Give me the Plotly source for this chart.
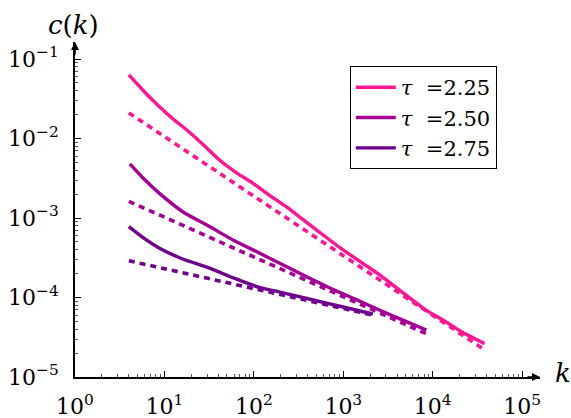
import plotly.graph_objects as go

# ---- data ----
tau_labels = ["2.25", "2.50", "2.75"]

k_225 = [4, 6, 8.8, 12.5, 17.7, 28, 41, 64, 97, 150, 232, 340, 500, 900, 1650, 2600, 3950, 8500, 12900, 22000, 38000]
c_225 = [0.063, 0.0385, 0.0251, 0.0176, 0.0129, 0.0081, 0.0054, 0.0037, 0.00275, 0.00193, 0.00138, 9.9e-4, 7.1e-4, 4.3e-4, 2.69e-4, 1.9e-4, 1.32e-4, 6.9e-5, 5.25e-5, 3.6e-5, 2.63e-5]

k_250 = [4.1, 6, 8.8, 16, 32, 60, 115, 195, 400, 708, 1400, 2570, 5000, 8500]
c_250 = [4.8e-3, 3.05e-3, 2.04e-3, 1.2e-3, 7.8e-4, 5.2e-4, 3.63e-4, 2.69e-4, 1.8e-4, 1.32e-4, 9.4e-5, 6.9e-5, 5.0e-5, 3.9e-5]

k_275 = [4, 6, 8.8, 16, 32, 60, 115, 195, 500, 1000, 2140]
c_275 = [7.8e-4, 5.5e-4, 4.17e-4, 3.05e-4, 2.34e-4, 1.75e-4, 1.34e-4, 1.17e-4, 9.1e-5, 7.6e-5, 6.2e-5]

kd_225 = [4, 38000]
cd_225 = [0.021, 2.2e-5]
kd_250 = [4, 8500]
cd_250 = [1.62e-3, 3.5e-5]
kd_275 = [4, 2140]
cd_275 = [2.9e-4, 6.0e-5]

x_tick_vals = [1, 10, 100, 1000, 10000, 100000]
x_tick_text = ["10<sup>0</sup>", "10<sup>1</sup>", "10<sup>2</sup>", "10<sup>3</sup>", "10<sup>4</sup>", "10<sup>5</sup>"]
y_tick_vals = [1e-5, 1e-4, 1e-3, 1e-2, 1e-1]
y_tick_text = ["10<sup>−5</sup>", "10<sup>−4</sup>", "10<sup>−3</sup>", "10<sup>−2</sup>", "10<sup>−1</sup>"]

colors = ["rgb(255,20,147)", "rgb(165,0,150)", "rgb(110,0,140)"]
FONT = "DejaVu Serif"

fig = go.Figure()
solid = [(k_225, c_225), (k_250, c_250), (k_275, c_275)]
dashed = [(kd_225, cd_225), (kd_250, cd_250), (kd_275, cd_275)]
for i, (ks, cs) in enumerate(solid):
    fig.add_trace(go.Scatter(x=ks, y=cs, mode="lines", name="<i>τ</i>  =" + tau_labels[i],
                             legendgroup="g%d" % i,
                             line=dict(color=colors[i], width=3.4, shape="spline", smoothing=0.6)))
for i, (kd, cd) in enumerate(dashed):
    fig.add_trace(go.Scatter(x=kd, y=cd, mode="lines", showlegend=False,
                             line=dict(color=colors[i], width=3.6, dash="6px,5px")))

minor_x = [m * 10 ** e for e in range(0, 5) for m in range(2, 10)]
minor_y = [m * 10.0 ** e for e in range(-5, 0) for m in range(2, 10)]

fig.update_xaxes(type="log", range=[0, 5.2], showgrid=False, zeroline=False, automargin=False,
                 showline=True, linecolor="black", linewidth=1.6,
                 tickmode="array", tickvals=x_tick_vals, ticktext=x_tick_text,
                 ticks="inside", ticklen=6, tickwidth=1, tickcolor="black",
                 ticklabelstandoff=9,
                 minor=dict(tickmode="array", tickvals=minor_x, ticks="inside",
                            ticklen=3, tickwidth=0.7, tickcolor="#555"),
                 tickfont=dict(family=FONT, size=22, color="black"))
fig.update_yaxes(type="log", range=[-5, -0.786], showgrid=False, zeroline=False, automargin=False,
                 showline=True, linecolor="black", linewidth=1.6,
                 tickmode="array", tickvals=y_tick_vals, ticktext=y_tick_text,
                 ticks="inside", ticklen=6, tickwidth=1, tickcolor="black",
                 ticklabelstandoff=10,
                 minor=dict(tickmode="array", tickvals=minor_y, ticks="inside",
                            ticklen=3, tickwidth=0.7, tickcolor="#555"),
                 tickfont=dict(family=FONT, size=22, color="black"))

fig.add_annotation(x=1, y=0, xref="paper", yref="paper", ax=-14, ay=0, text="",
                   showarrow=True, arrowhead=2, arrowsize=1, arrowwidth=1.6, arrowcolor="black")
fig.add_annotation(x=0, y=1, xref="paper", yref="paper", ax=0, ay=14, text="",
                   showarrow=True, arrowhead=2, arrowsize=1, arrowwidth=1.6, arrowcolor="black")
fig.add_annotation(x=0, y=1, xref="paper", yref="paper", text="<i>c</i>(<i>k</i>)",
                   showarrow=False, yshift=17, xshift=-2, yanchor="middle", xanchor="center",
                   font=dict(family=FONT, size=26, color="black"))
fig.add_annotation(x=1, y=0, xref="paper", yref="paper", text="<i>k</i>",
                   showarrow=False, xshift=13, xanchor="left", yanchor="middle", yshift=4,
                   font=dict(family=FONT, size=26, color="black"))

fig.update_layout(
    width=571, height=418,
    margin=dict(l=75, r=31, t=42, b=41, autoexpand=False),
    plot_bgcolor="white", paper_bgcolor="white",
    font=dict(family=FONT, color="black"),
    legend=dict(x=0.591, y=0.928, xanchor="left", yanchor="top",
                bordercolor="black", borderwidth=1, bgcolor="white",
                tracegroupgap=0, itemwidth=40,
                font=dict(family=FONT, size=21, color="black")),
)

fig.write_html("out.html")
